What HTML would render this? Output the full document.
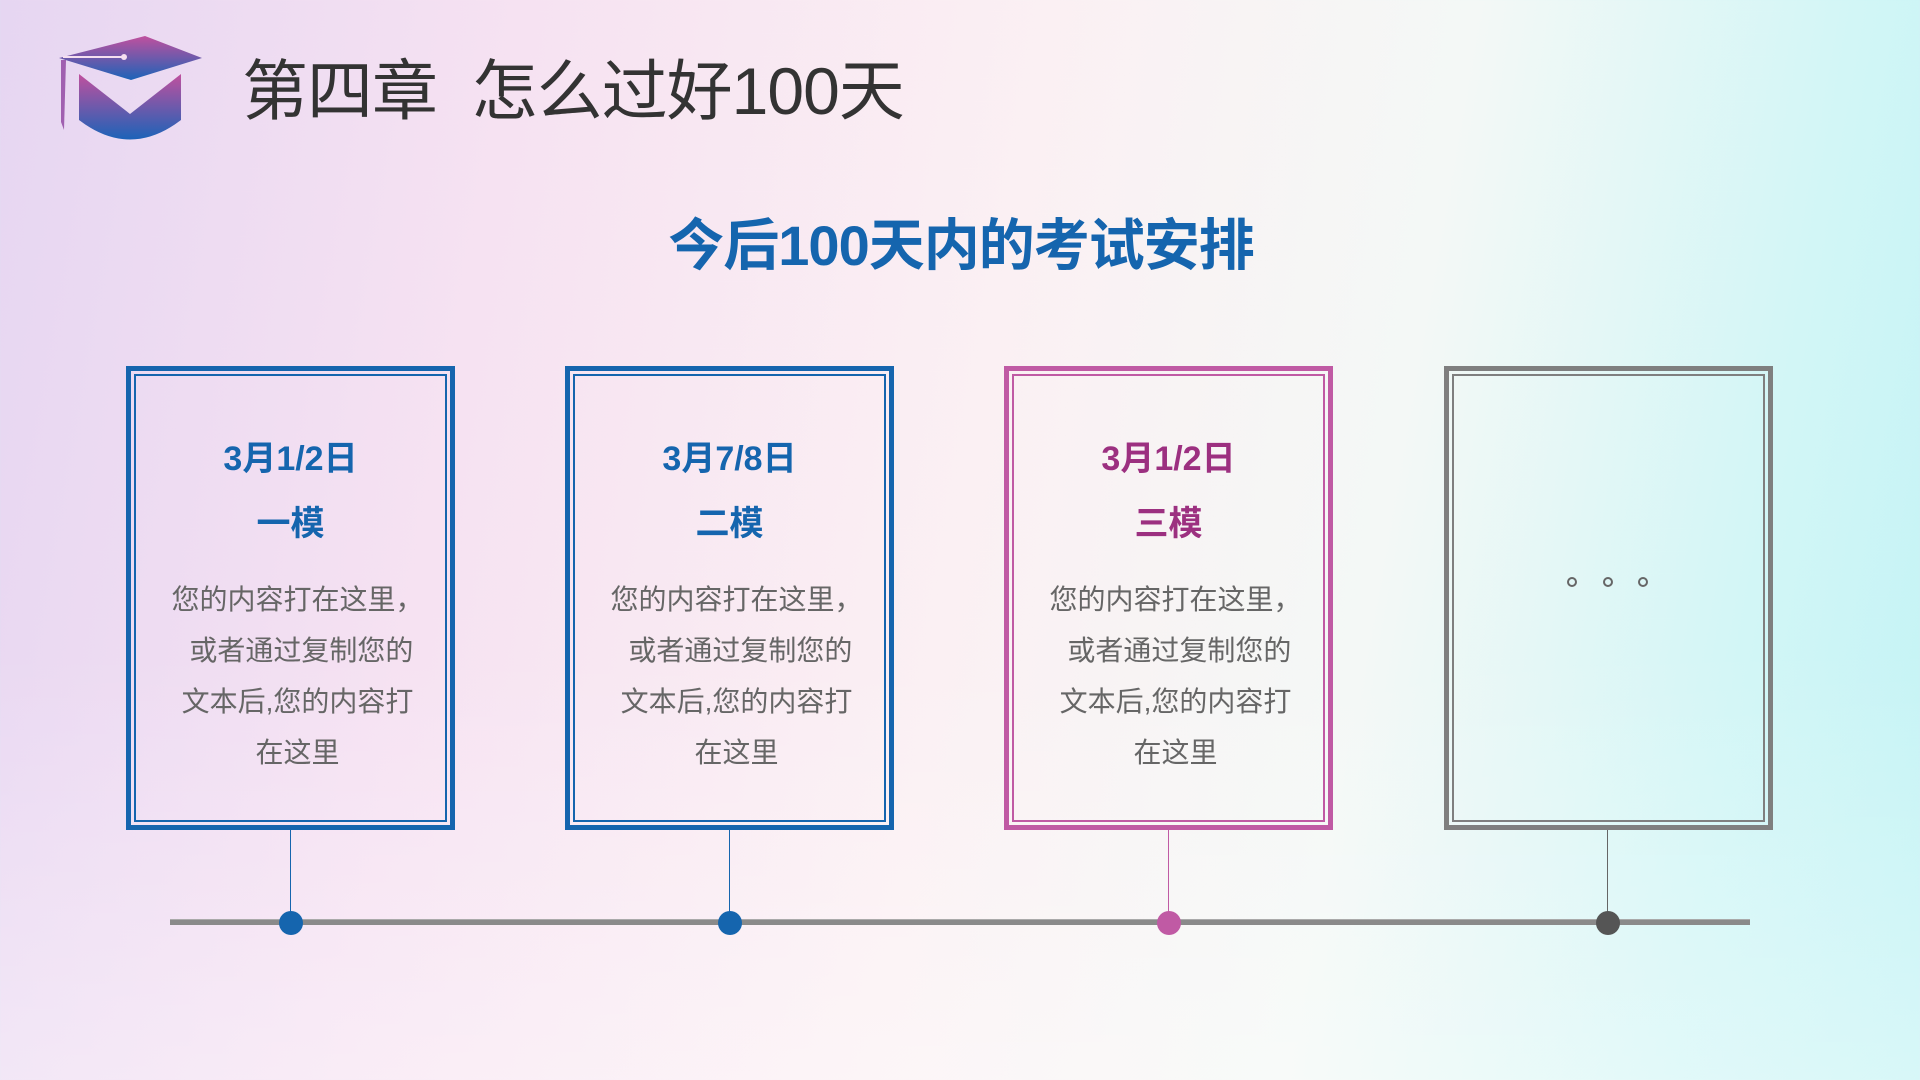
<!DOCTYPE html>
<html><head><meta charset="utf-8"><style>
*{margin:0;padding:0;box-sizing:border-box}
body{width:1920px;height:1080px;overflow:hidden;position:relative;font-family:"Liberation Sans","Noto Sans CJK SC",sans-serif;
background:linear-gradient(100deg,#e6d6f2 0%,#f6e2f2 25%,#fbf0f3 50%,#f4f8f6 70%,#d2f6f6 88%,#c2f3f5 100%)}
.ov{position:absolute;inset:0;background:linear-gradient(180deg,rgba(255,255,255,0) 60%,rgba(255,255,255,0.35) 100%)}
.h1{position:absolute;left:242px;top:38px;font-size:66px;color:#333;white-space:nowrap;letter-spacing:-1px}
.t{position:absolute;left:0;width:1922px;text-align:center;top:201px;font-size:56px;font-weight:bold;color:#1565ae;letter-spacing:-1px}
.box{position:absolute;top:366px;width:329px;height:464px;border:5px solid;padding:3px}
.box .in{width:100%;height:100%;border:2px solid;text-align:center}
.d{font-size:34px;font-weight:bold;margin-top:63px;line-height:40px}
.m{font-size:34px;font-weight:bold;margin-top:25px;line-height:40px}
.b{font-size:28px;color:#666;line-height:51px;margin-top:30px;padding-left:14px;white-space:nowrap}
.ln{position:absolute;top:830px;width:1px;height:93px}
.dot{position:absolute;top:911px;width:24px;height:24px;border-radius:50%}
.bar{position:absolute;left:170px;top:919px;width:1580px;height:6px;background:#8a8a8a;border-top:1px solid #aaa}
.sd{position:absolute;top:577px;width:10px;height:10px;border:2px solid #666;border-radius:50%}
</style></head><body><div class="ov"></div>
<svg style="position:absolute;left:55px;top:34px" width="150" height="112" viewBox="0 0 150 112">
<defs><linearGradient id="g" x1="0" y1="0" x2="0" y2="1"><stop offset="0" stop-color="#c0509e"/><stop offset="1" stop-color="#1c63b8"/></linearGradient></defs>
<polygon points="90,2 147,24 76,46 4,24" fill="url(#g)"/>
<path d="M24,40 L24,86 Q75,125 126,86 L126,40 L75,80 Z" fill="url(#g)"/>
<path d="M6,26 L6,88 L9,96 L11,26 Z" fill="#a060b0"/>
<line x1="8" y1="23" x2="68" y2="23" stroke="#f5dff0" stroke-width="2"/><circle cx="69" cy="23" r="3" fill="#f5dff0"/>
</svg>
<div class="h1">第四章&nbsp;&nbsp;怎么过好100天</div>
<div class="t">今后100天内的考试安排</div>
<div class="bar"></div>

<div class="box" style="left:126px;border-color:#1565ae"><div class="in" style="border-color:#1565ae;color:#1565ae">
<div class="d">3月1/2日</div><div class="m">一模</div><div class="b">您的内容打在这里，<br>&nbsp;或者通过复制您的<br>文本后,您的内容打<br>在这里</div></div></div>
<div class="box" style="left:565px;border-color:#1565ae"><div class="in" style="border-color:#1565ae;color:#1565ae">
<div class="d">3月7/8日</div><div class="m">二模</div><div class="b">您的内容打在这里，<br>&nbsp;或者通过复制您的<br>文本后,您的内容打<br>在这里</div></div></div>
<div class="box" style="left:1004px;border-color:#c05aa4"><div class="in" style="border-color:#c05aa4;color:#9c3080">
<div class="d">3月1/2日</div><div class="m">三模</div><div class="b">您的内容打在这里，<br>&nbsp;或者通过复制您的<br>文本后,您的内容打<br>在这里</div></div></div>
<div class="box" style="left:1444px;border-color:#7f7f7f"><div class="in" style="border-color:#7f7f7f"></div></div>
<div class="sd" style="left:1567px"></div><div class="sd" style="left:1603px"></div><div class="sd" style="left:1638px"></div>

<div class="ln" style="left:290px;background:#1565ae"></div><div class="dot" style="left:279px;background:#1565ae"></div>
<div class="ln" style="left:729px;background:#1565ae"></div><div class="dot" style="left:718px;background:#1565ae"></div>
<div class="ln" style="left:1168px;background:#c05aa4"></div><div class="dot" style="left:1157px;background:#c05aa4"></div>
<div class="ln" style="left:1607px;background:#666"></div><div class="dot" style="left:1596px;background:#555"></div>
</body></html>
